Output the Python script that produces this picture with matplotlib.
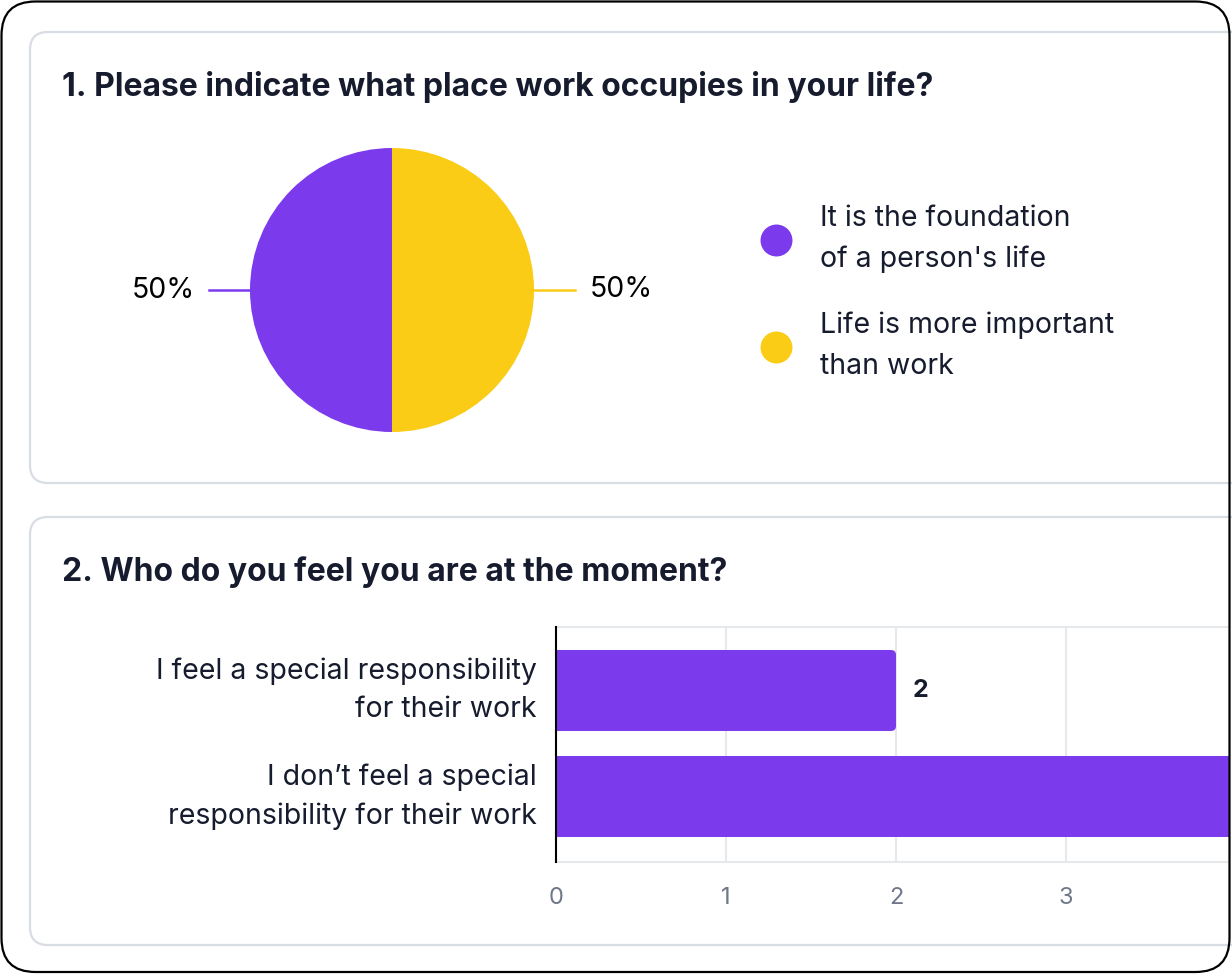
import numpy as np
import matplotlib.pyplot as plt
from matplotlib.patches import FancyBboxPatch
from matplotlib.lines import Line2D

plt.rcParams['font.family'] = ['Inter', 'DejaVu Sans']

# question 1 (pie)
title1 = "1. Please indicate what place work occupies in your life?"
pie_labels = ["It is the foundation\nof a person's life", "Life is more important\nthan work"]
pie_values = [50, 50]
pie_colors = ['#7c3aed', '#facc15']

# question 2 (bars)
title2 = "2. Who do you feel you are at the moment?"
bar_labels = ["I feel a special responsibility\nfor their work", "I don\u2019t feel a special\nresponsibility for their work"]
bar_values = [2, 4]
bar_color = '#7c3aed'

TXT = '#161b2e'
W, H = 1232, 974
fig = plt.figure(figsize=(W / 100, H / 100), dpi=100)

def px(x0, y0, x1, y1):
    # pixel box (top-left origin) -> figure fraction
    return [x0 / W, 1 - y1 / H, (x1 - x0) / W, (y1 - y0) / H]

# background layer: cards
bg = fig.add_axes([0, 0, 1, 1])
bg.set_xlim(0, W)
bg.set_ylim(H, 0)
bg.axis('off')
for top, bot in [(32, 483), (517, 945)]:
    bg.add_patch(FancyBboxPatch((30, top), 1300, bot - top, boxstyle='round,pad=0,rounding_size=18',
                                fc='white', ec='#d8dce3', lw=1.6))
bg.text(62, 87, title1, fontsize=23, fontweight='bold', color=TXT, va='center', ha='left')
bg.text(62, 572, title2, fontsize=23, fontweight='bold', color=TXT, va='center', ha='left')

# pie
axp = fig.add_axes(px(250, 148, 534, 432))
wedges, _ = axp.pie(pie_values, colors=pie_colors, startangle=90, counterclock=True,
                    radius=1, wedgeprops=dict(lw=0))
axp.set_xlim(-1, 1)
axp.set_ylim(-1, 1)
axp.set_aspect('equal')
for w, v in zip(wedges, pie_values):
    ang = np.deg2rad((w.theta1 + w.theta2) / 2)
    cx, cy = np.cos(ang), np.sin(ang)
    axp.plot([cx * 1.0, cx * 1.29], [cy * 1.0, cy * 1.29], color=w.get_facecolor(), lw=1.8, clip_on=False)
    axp.text(cx * 1.39, cy * 1.39, f"{v}%", ha='right' if cx < 0 else 'left', va='center',
             fontsize=20.5, color='black')

handles = [Line2D([], [], marker='o', ls='', markersize=23, markerfacecolor=c, markeredgewidth=0)
           for c in pie_colors]
leg = fig.legend(handles, pie_labels, loc='upper left', bbox_to_anchor=(753 / W, 1 - 196 / H),
                 frameon=False, fontsize=20.5, handletextpad=1.05, labelspacing=1.35,
                 handlelength=1.0, borderaxespad=0, borderpad=0.3)
for t in leg.get_texts():
    t.set_color(TXT)
    t.set_linespacing(1.67)

# bars
x_right = (1229 - 556) / 170
axb = fig.add_axes(px(556, 627, 1229, 862))
ypos = list(range(len(bar_values)))
bars = axb.barh(ypos, bar_values, height=0.764, color=bar_color)
axb.set_xlim(0, x_right)
axb.set_ylim(1.618, -0.599)
# rounded right ends
rx = 5 / 170
for b in bars:
    b.set_visible(False)
    axb.add_patch(FancyBboxPatch((b.get_x() - rx, b.get_y()), b.get_width() + rx, b.get_height(),
                                 boxstyle=f'round,pad=0,rounding_size={rx}', mutation_aspect=170 / 106,
                                 fc=bar_color, ec='none', zorder=2))
axb.set_yticks(ypos)
axb.set_yticklabels(bar_labels, fontsize=20.5, color=TXT, linespacing=1.53)
for t in axb.get_yticklabels():
    t.set_verticalalignment('center')
axb.set_xticks([t for t in range(0, 6) if t <= x_right])
axb.tick_params(axis='x', length=0, pad=18, labelsize=17, labelcolor='#6f7789')
axb.tick_params(axis='y', length=0, pad=14)
axb.grid(axis='x', color='#e6e8ec', lw=1.5)
axb.set_axisbelow(True)
for s in ['top', 'bottom']:
    axb.spines[s].set_color('#e6e8ec')
    axb.spines[s].set_linewidth(1.5)
axb.spines['right'].set_visible(False)
axb.spines['left'].set_color('black')
axb.spines['left'].set_linewidth(1.5)
axb.spines['left'].set_zorder(5)
for b, v in zip(bars, bar_values):
    if v + 0.3 < x_right:
        axb.text(b.get_width() + 0.1, b.get_y() + b.get_height() / 2, str(v), fontsize=18,
                 fontweight='bold', color=TXT, va='center', ha='left')

# outer frame on top
top = fig.add_axes([0, 0, 1, 1], zorder=10)
top.set_xlim(0, W)
top.set_ylim(H, 0)
top.axis('off')
top.patch.set_alpha(0)
top.add_patch(FancyBboxPatch((1.5, 1.5), 1228, H - 3.5, boxstyle='round,pad=0,rounding_size=34',
                             fc='none', ec='black', lw=1.6))

fig.savefig('out.png', dpi=100)
